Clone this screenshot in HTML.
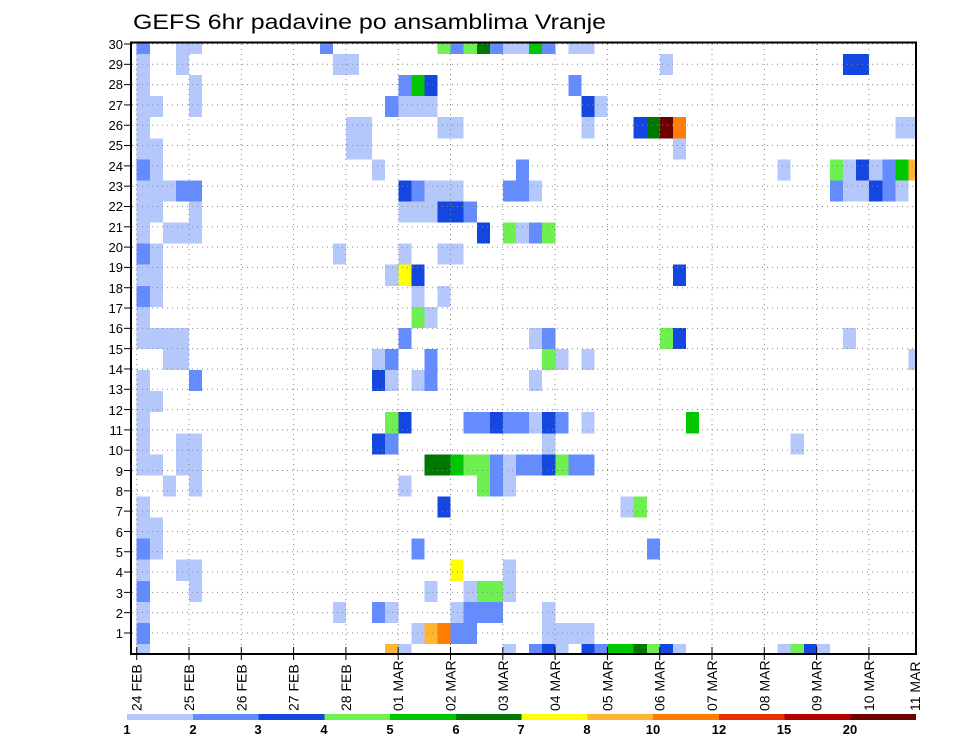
<!DOCTYPE html>
<html><head><meta charset="utf-8"><style>
html,body{margin:0;padding:0;background:#fff;width:960px;height:742px;overflow:hidden}
svg{display:block}
text{font-family:"Liberation Sans",sans-serif;fill:#000}
</style></head><body>
<svg id="s" width="960" height="742" viewBox="0 0 960 742" xmlns="http://www.w3.org/2000/svg">
<text x="133" y="29" font-size="21" textLength="473" lengthAdjust="spacingAndGlyphs">GEFS 6hr padavine po ansamblima Vranje</text>
<g id="cells" shape-rendering="crispEdges"></g>
<g id="grid" stroke="#888" stroke-width="1" stroke-dasharray="1,4" fill="none"></g>
<rect x="131" y="42.5" width="785" height="611.5" fill="none" stroke="#000" stroke-width="2"/>
<g id="ticks" stroke="#000" stroke-width="1"></g>
<g font-size="13" text-anchor="end">
<text x="123" y="49">30</text><text x="123" y="69">29</text><text x="123" y="89">28</text><text x="123" y="110">27</text><text x="123" y="130">26</text><text x="123" y="150">25</text><text x="123" y="171">24</text><text x="123" y="191">23</text><text x="123" y="211">22</text><text x="123" y="232">21</text><text x="123" y="252">20</text><text x="123" y="272">19</text><text x="123" y="293">18</text><text x="123" y="313">17</text><text x="123" y="333">16</text><text x="123" y="354">15</text><text x="123" y="374">14</text><text x="123" y="394">13</text><text x="123" y="415">12</text><text x="123" y="435">11</text><text x="123" y="455">10</text><text x="123" y="476">9</text><text x="123" y="496">8</text><text x="123" y="516">7</text><text x="123" y="537">6</text><text x="123" y="557">5</text><text x="123" y="577">4</text><text x="123" y="598">3</text><text x="123" y="618">2</text><text x="123" y="638">1</text>
</g>
<g font-size="14">
<text transform="translate(141.7,711) rotate(-90)">24 FEB</text>
<text transform="translate(194,711) rotate(-90)">25 FEB</text>
<text transform="translate(246.3,711) rotate(-90)">26 FEB</text>
<text transform="translate(298.6,711) rotate(-90)">27 FEB</text>
<text transform="translate(350.9,711) rotate(-90)">28 FEB</text>
<text transform="translate(403.2,711) rotate(-90)">01 MAR</text>
<text transform="translate(455.5,711) rotate(-90)">02 MAR</text>
<text transform="translate(507.8,711) rotate(-90)">03 MAR</text>
<text transform="translate(560.1,711) rotate(-90)">04 MAR</text>
<text transform="translate(612.4,711) rotate(-90)">05 MAR</text>
<text transform="translate(664.7,711) rotate(-90)">06 MAR</text>
<text transform="translate(717,711) rotate(-90)">07 MAR</text>
<text transform="translate(769.3,711) rotate(-90)">08 MAR</text>
<text transform="translate(821.6,711) rotate(-90)">09 MAR</text>
<text transform="translate(873.9,711) rotate(-90)">10 MAR</text>
<text transform="translate(920,711) rotate(-90)">11 MAR</text>
</g>
<g id="cbar" shape-rendering="crispEdges"></g>
<g font-size="13" font-weight="bold" text-anchor="middle">
<text x="127" y="734">1</text><text x="193" y="734">2</text><text x="258" y="734">3</text><text x="324" y="734">4</text><text x="390" y="734">5</text><text x="456" y="734">6</text><text x="521" y="734">7</text><text x="587" y="734">8</text><text x="653" y="734">10</text><text x="719" y="734">12</text><text x="784" y="734">15</text><text x="850" y="734">20</text>
</g>
</svg>
<script>
var C={L:"#b4c8fc",M:"#648cff",D:"#1446e0",G1:"#6ef050",G2:"#00c800",G3:"#007800",Y:"#ffff00",O1:"#ffb432",O2:"#ff7d00",R1:"#e63200",R2:"#b40000",DR:"#6e0000"};
var data=[
"0M 3L 4L 14M 23G1 24M 25G1 26G3 27M 28L 29L 30G2 31M 33L 34L",
"0L 3L 15L 16L 40L 54D 55D",
"0L 4L 20M 21G2 22D 33M",
"0L 1L 4L 19M 20L 21L 22L 34D 35L",
"0L 16L 17L 23L 24L 34L 38D 39G3 40DR 41O2 58L 59L",
"0L 1L 16L 17L 41L",
"0M 1L 18L 29M 49L 53G1 54L 55D 56L 57M 58G2 59O1",
"0L 1L 2L 3M 4M 20D 21M 22L 23L 24L 28M 29M 30L 53M 54L 55L 56D 57M 58L",
"0L 1L 4L 20L 21L 22L 23D 24D 25M",
"0L 2L 3L 4L 26D 28G1 29L 30M 31G1",
"0M 1L 15L 20L 23L 24L",
"0L 1L 19L 20Y 21D 41D",
"0M 1L 21L 23L",
"0L 21G1 22L",
"0L 1L 2L 3L 20M 30L 31M 40G1 41D 54L",
"2L 3L 18L 19M 22M 31G1 32L 34L 59L",
"0L 4M 18D 19L 21L 22M 30L",
"0L 1L",
"0L 19G1 20D 25M 26M 27D 28M 29M 30L 31D 32M 34L 42G2",
"0L 3L 4L 18D 19M 31L 50L",
"0L 1L 3L 4L 22G3 23G3 24G2 25G1 26G1 27M 28L 29M 30M 31D 32G1 33M 34M",
"2L 4L 20L 26G1 27M 28L",
"0L 23D 37L 38G1",
"0L 1L",
"0M 1L 21M 39M",
"0L 3L 4L 24Y 28L",
"0M 4L 22L 25L 26G1 27G1 28L",
"0L 15L 18M 19L 24L 25M 26M 27M 31L",
"0M 21L 22O1 23O2 24M 25M 31L 32L 33L 34L",
"0L 19O1 20L 28L 30M 31D 32L 34D 35M 36G2 37G2 38G3 39G1 40D 41L 49L 50G1 51D 52L"];
var NS="http://www.w3.org/2000/svg";
function mk(p,tag,a){var e=document.createElementNS(NS,tag);for(var k in a)e.setAttribute(k,a[k]);p.appendChild(e);return e;}
var g=document.getElementById("cells");
data.forEach(function(row,i){
  var y0,y1;
  if(i==0){y0=43;y1=54;}else if(i==29){y0=644;y1=654;}else{y0=54+(i-1)*21.07;y1=y0+21.07;}
  row.split(" ").forEach(function(t){
    var m=t.match(/^(\d+)(\w+)$/);var c=+m[1];
    var x0=136.7+13.08*c,x1=Math.min(x0+13.08,915);
    mk(g,"rect",{x:x0,y:y0,width:x1-x0,height:y1-y0,fill:C[m[2]]});
  });
});
var gr=document.getElementById("grid"),tk=document.getElementById("ticks");
for(var r=1;r<=30;r++){var y=44+(30-r)*20.31;mk(gr,"line",{x1:132,x2:915,y1:y,y2:y});mk(tk,"line",{x1:124,x2:131,y1:y,y2:y});}
for(var d=0;d<15;d++){var x=136.7+52.3*d;mk(gr,"line",{x1:x,x2:x,y1:44,y2:653});mk(tk,"line",{x1:x,x2:x,y1:647,y2:660});}
var cb=document.getElementById("cbar"),cols=["L","M","D","G1","G2","G3","Y","O1","O2","R1","R2","DR"];
cols.forEach(function(k,j){mk(cb,"rect",{x:127+65.75*j,y:714,width:65.75,height:6,fill:C[k]});});
</script>
</body></html>
